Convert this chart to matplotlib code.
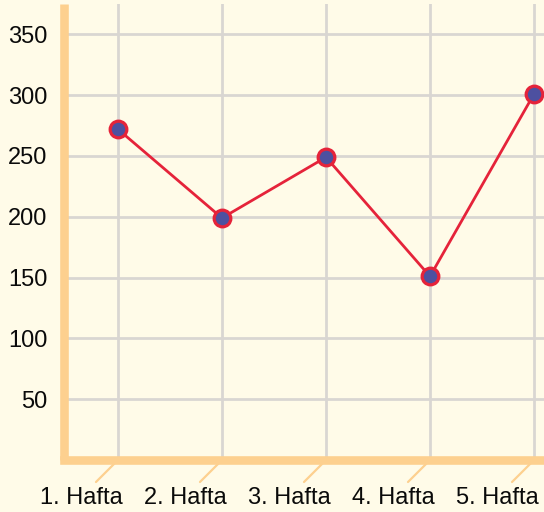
import matplotlib
matplotlib.use("Agg")
import matplotlib.pyplot as plt

categories = ["1. Hafta", "2. Hafta", "3. Hafta", "4. Hafta", "5. Hafta"]
values = [272, 199, 249, 151, 301]
yticks = [50, 100, 150, 200, 250, 300, 350]

bg = "#FFFBE8"
axis_col = "#FDD08F"
grid_col = "#D9D6D2"
line_col = "#E5233A"
face_col = "#4D50A0"

plt.rcParams['font.family'] = ['Liberation Sans', 'DejaVu Sans']

W, H = 544, 512
fig = plt.figure(figsize=(W / 100, H / 100), dpi=100, facecolor=bg)
ax = fig.add_axes([64 / W, (H - 460) / H, (W - 64) / W, 456 / H])
ax.set_facecolor(bg)

x = list(range(len(categories)))
ax.set_xlim(-0.519, 4.096)
ax.set_ylim(0, 375)

ax.set_yticks(yticks)
ax.set_xticks(x)
ax.grid(True, color=grid_col, linewidth=2.0)
ax.set_axisbelow(True)
ax.tick_params(axis='both', length=0)
ax.tick_params(axis='y', labelsize=17, pad=12, labelcolor='#0A0A0A')
ax.set_xticklabels([])

for s in ['top', 'right']:
    ax.spines[s].set_visible(False)
for s in ['left', 'bottom']:
    ax.spines[s].set_color(axis_col)
    ax.spines[s].set_linewidth(6.2)
ax.spines['bottom'].set_capstyle('projecting')
ax.spines['left'].set_capstyle('butt')

ax.plot(x, values, color=line_col, linewidth=2, marker='o', markersize=12,
        markerfacecolor=face_col, markeredgecolor=line_col, markeredgewidth=2.3,
        clip_on=False, zorder=5)

for i, lab in enumerate(categories):
    ax.annotate('', xy=(i, 0), xycoords='data', xytext=(-22, -22),
                textcoords='offset pixels',
                arrowprops=dict(arrowstyle='-', color=axis_col, lw=1.6,
                                shrinkA=0, shrinkB=0), annotation_clip=False)
    ax.annotate(lab, xy=(i, 0), xycoords='data', xytext=(5, -38),
                textcoords='offset pixels', ha='right', va='center',
                fontsize=17, color='#0A0A0A', annotation_clip=False)

fig.savefig("out.png", dpi=100, facecolor=bg)
